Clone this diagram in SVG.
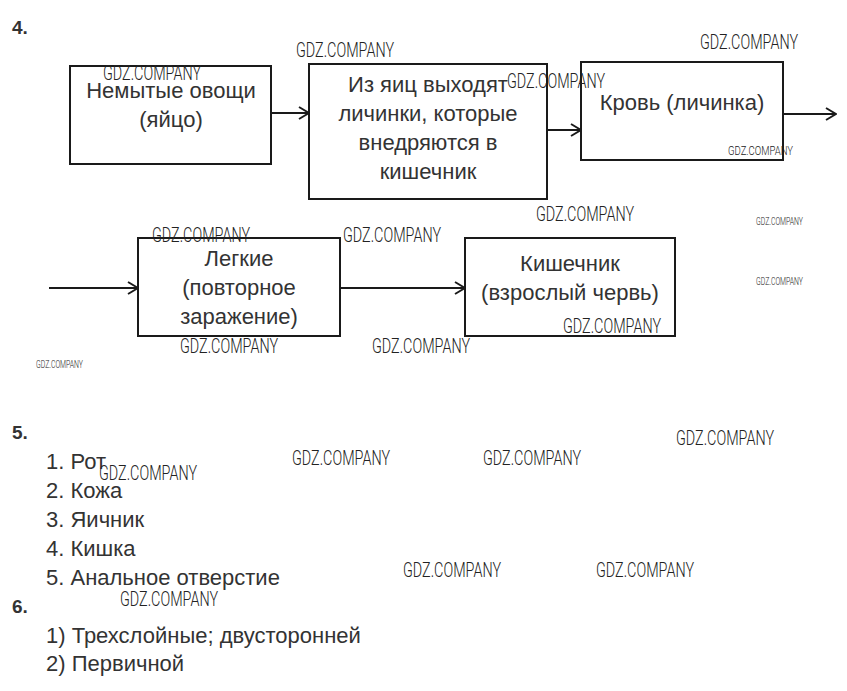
<svg xmlns="http://www.w3.org/2000/svg" width="847" height="691" viewBox="0 0 847 691">
<style>
.box{fill:#fff;stroke:#1a1a1a;stroke-width:2}
.t{font-family:"Liberation Sans",Arial,sans-serif;font-size:22px;fill:#333}
.tc{text-anchor:middle}
.h{font-family:"Liberation Sans",Arial,sans-serif;font-size:19px;font-weight:bold;fill:#333}
.c{stroke:#1a1a1a;stroke-width:2;fill:none}
.w{font-family:Roboto,"DejaVu Sans",sans-serif;font-weight:300;fill:#222}
.wl{font-size:20px}
.ws{font-size:12px}
.wx{font-size:10px}
</style>
<defs>
<marker id="ah" markerWidth="12" markerHeight="14" refX="11" refY="7" orient="auto" markerUnits="userSpaceOnUse">
<path d="M1,1 L11,7 L1,13" fill="none" stroke="#1a1a1a" stroke-width="2"/>
</marker>
</defs>
<rect width="847" height="691" fill="#fff"/>
<text class="h" x="12" y="34">4.</text>
<g id="n1"><rect class="box" x="70" y="66" width="201" height="98"/>
<text class="t tc" x="171" y="98">Немытые овощи</text>
<text class="t tc" x="171" y="127">(яйцо)</text></g>
<g id="n2"><rect class="box" x="309" y="64" width="238" height="135"/>
<text class="t tc" x="428" y="92">Из яиц выходят</text>
<text class="t tc" x="428" y="121">личинки, которые</text>
<text class="t tc" x="428" y="150">внедряются в</text>
<text class="t tc" x="428" y="179">кишечник</text></g>
<g id="n3"><rect class="box" x="581" y="62" width="202" height="98"/>
<text class="t tc" x="682" y="110">Кровь (личинка)</text></g>
<g id="n4"><rect class="box" x="138" y="238" width="202" height="98"/>
<text class="t tc" x="239" y="266">Легкие</text>
<text class="t tc" x="239" y="295">(повторное</text>
<text class="t tc" x="239" y="324">заражение)</text></g>
<g id="n5"><rect class="box" x="465" y="238" width="210" height="98"/>
<text class="t tc" x="570" y="271">Кишечник</text>
<text class="t tc" x="570" y="300">(взрослый червь)</text></g>
<g id="connectors">
<line class="c" x1="272" y1="113" x2="309" y2="113" marker-end="url(#ah)"/>
<line class="c" x1="547" y1="130" x2="581" y2="130" marker-end="url(#ah)"/>
<line class="c" x1="783" y1="114" x2="836" y2="114" marker-end="url(#ah)"/>
<line class="c" x1="49" y1="288" x2="138" y2="288" marker-end="url(#ah)"/>
<line class="c" x1="340" y1="288" x2="465" y2="288" marker-end="url(#ah)"/>
</g>
<text class="h" x="12" y="439">5.</text>
<text class="t" x="46" y="469">1. Рот</text>
<text class="t" x="46" y="498">2. Кожа</text>
<text class="t" x="46" y="527">3. Яичник</text>
<text class="t" x="46" y="556">4. Кишка</text>
<text class="t" x="46" y="585">5. Анальное отверстие</text>
<text class="h" x="12" y="613">6.</text>
<text class="t" x="46" y="643">1) Трехслойные; двусторонней</text>
<text class="t" x="46" y="671">2) Первичной</text>
<g id="watermarks">
<text class="w wl" x="296" y="57" textLength="98" lengthAdjust="spacingAndGlyphs">GDZ.COMPANY</text>
<text class="w wl" x="103" y="80" textLength="98" lengthAdjust="spacingAndGlyphs">GDZ.COMPANY</text>
<text class="w wl" x="507" y="88" textLength="98" lengthAdjust="spacingAndGlyphs">GDZ.COMPANY</text>
<text class="w wl" x="700" y="49" textLength="98" lengthAdjust="spacingAndGlyphs">GDZ.COMPANY</text>
<text class="w ws" x="728" y="155" textLength="65" lengthAdjust="spacingAndGlyphs">GDZ.COMPANY</text>
<text class="w wl" x="536" y="221" textLength="98" lengthAdjust="spacingAndGlyphs">GDZ.COMPANY</text>
<text class="w wx" x="756" y="225" textLength="47" lengthAdjust="spacingAndGlyphs">GDZ.COMPANY</text>
<text class="w wx" x="756" y="285" textLength="47" lengthAdjust="spacingAndGlyphs">GDZ.COMPANY</text>
<text class="w wl" x="152" y="242" textLength="98" lengthAdjust="spacingAndGlyphs">GDZ.COMPANY</text>
<text class="w wl" x="343" y="242" textLength="98" lengthAdjust="spacingAndGlyphs">GDZ.COMPANY</text>
<text class="w wl" x="563" y="333" textLength="98" lengthAdjust="spacingAndGlyphs">GDZ.COMPANY</text>
<text class="w wl" x="180" y="353" textLength="98" lengthAdjust="spacingAndGlyphs">GDZ.COMPANY</text>
<text class="w wl" x="372" y="353" textLength="98" lengthAdjust="spacingAndGlyphs">GDZ.COMPANY</text>
<text class="w wx" x="36" y="368" textLength="47" lengthAdjust="spacingAndGlyphs">GDZ.COMPANY</text>
<text class="w wl" x="676" y="445" textLength="98" lengthAdjust="spacingAndGlyphs">GDZ.COMPANY</text>
<text class="w wl" x="292" y="465" textLength="98" lengthAdjust="spacingAndGlyphs">GDZ.COMPANY</text>
<text class="w wl" x="483" y="465" textLength="98" lengthAdjust="spacingAndGlyphs">GDZ.COMPANY</text>
<text class="w wl" x="99" y="480" textLength="98" lengthAdjust="spacingAndGlyphs">GDZ.COMPANY</text>
<text class="w wl" x="403" y="577" textLength="98" lengthAdjust="spacingAndGlyphs">GDZ.COMPANY</text>
<text class="w wl" x="596" y="577" textLength="98" lengthAdjust="spacingAndGlyphs">GDZ.COMPANY</text>
<text class="w wl" x="120" y="606" textLength="98" lengthAdjust="spacingAndGlyphs">GDZ.COMPANY</text>
</g>
</svg>
